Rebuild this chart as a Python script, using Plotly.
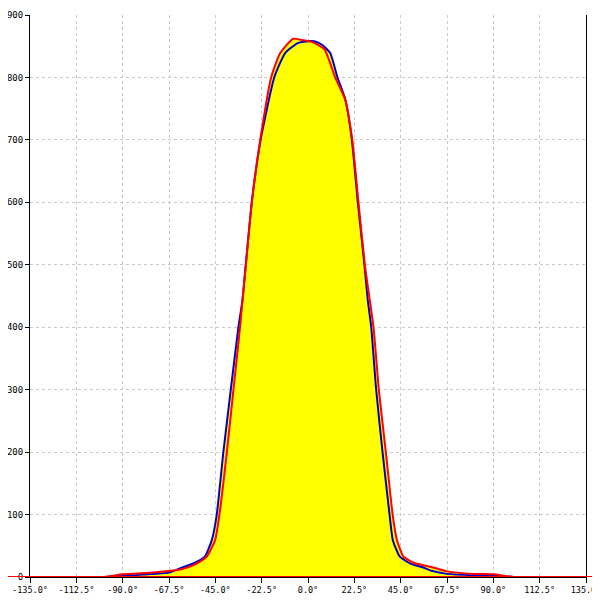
import plotly.graph_objects as go

# Blue series (angle in degrees, value)
blue_x = [-135, -100, -90, -80, -67.5, -62, -57, -52, -50, -46.7, -44.3, -41.1, -37.5, -33.8, -31.8,
          -30.2, -27.3, -23.0, -16.4, -11.1, -5, 0, 3, 7, 10.8, 14.3, 18.1, 21.3, 24.2, 27.4, 29,
          30.7, 33.1, 36.2, 39.6, 41.2, 44.5, 50, 55.3, 60, 67.5, 80, 90, 100, 135]
blue_y = [0, 0, 2, 4, 7, 14, 20, 28, 33, 59, 100, 200, 300, 400, 444,
          500, 600, 700, 800, 839, 855, 858, 858, 852, 839, 800, 765, 700, 600, 500, 444,
          400, 300, 200, 100, 59, 33, 21, 16, 10, 5, 3, 2.7, 0, 0]

# Red series
red_x = [-135, -100, -90, -76.7, -67.5, -62, -57, -52.4, -49.2, -45.1, -43, -39.4, -36.2, -33, -31.8,
         -30.2, -27.3, -23.2, -17.9, -13.5, -7.2, -3, 2, 8, 13.2, 18, 21.5, 24.5, 27.6, 31.8,
         34.4, 37.8, 41.1, 43.2, 46.4, 52, 59.4, 67.5, 80, 90, 100, 135]
red_y = [0, 0, 4.3, 7, 9.6, 12, 17, 24.5, 32.5, 59, 100, 200, 300, 400, 444,
         500, 600, 700, 800, 839, 862, 860, 857, 845, 800, 765, 700, 600, 500, 400,
         300, 200, 100, 59, 32.5, 22, 16.5, 9, 5, 4.3, 0, 0]

x_ticks = [-135, -112.5, -90, -67.5, -45, -22.5, 0, 22.5, 45, 67.5, 90, 112.5, 135]
x_tick_text = [f"{v:.1f}°" for v in x_ticks]
y_ticks = [0, 100, 200, 300, 400, 500, 600, 700, 800, 900]

fig = go.Figure()
# yellow fills (union of both areas)
for xs, ys in [(blue_x, blue_y), (red_x, red_y)]:
    fig.add_trace(go.Scatter(x=xs, y=ys, mode="lines", fill="tozeroy",
                             fillcolor="#FFFF00",
                             line=dict(width=0, color="#FFFF00", shape="spline", smoothing=0.5),
                             hoverinfo="skip", showlegend=False))
fig.add_trace(go.Scatter(x=blue_x, y=blue_y, mode="lines",
                         line=dict(color="#0000CC", width=2, shape="spline", smoothing=0.5),
                         showlegend=False))
fig.add_trace(go.Scatter(x=red_x, y=red_y, mode="lines",
                         line=dict(color="#FF0000", width=2, shape="spline", smoothing=0.5),
                         showlegend=False))

xfont = dict(family="DejaVu Sans Mono", size=8.5, color="#000000")
yfont = dict(family="DejaVu Sans Mono", size=9, color="#000000")
fig.update_layout(
    width=592, height=592,
    margin=dict(l=22, r=14, t=7, b=23, autoexpand=False),
    paper_bgcolor="white", plot_bgcolor="white",
    showlegend=False,
    xaxis=dict(range=[-135, 135], tickvals=x_ticks, ticktext=x_tick_text,
               tickfont=xfont, ticks="outside", ticklen=5, tickcolor="black",
               ticklabeloverflow="allow",
               showline=True, linecolor="black", linewidth=1, automargin=False,
               showgrid=True, gridcolor="#C8C8C8", griddash="3px,3px", gridwidth=1,
               zeroline=False, fixedrange=True),
    yaxis=dict(range=[0, 900], tickvals=y_ticks, tickfont=yfont,
               ticks="outside", ticklen=4, tickcolor="black", automargin=False,
               ticklabeloverflow="allow",
               showline=True, linecolor="black", linewidth=1, mirror=True,
               showgrid=True, gridcolor="#C8C8C8", griddash="3px,3px", gridwidth=1,
               zeroline=False, fixedrange=True),
)
# red baseline extending across the whole picture
fig.add_shape(type="line", xref="paper", yref="y", x0=-0.054, x1=1.026, y0=0, y1=0,
              line=dict(color="#FF0000", width=2), layer="above")
fig.write_html("out.html")
